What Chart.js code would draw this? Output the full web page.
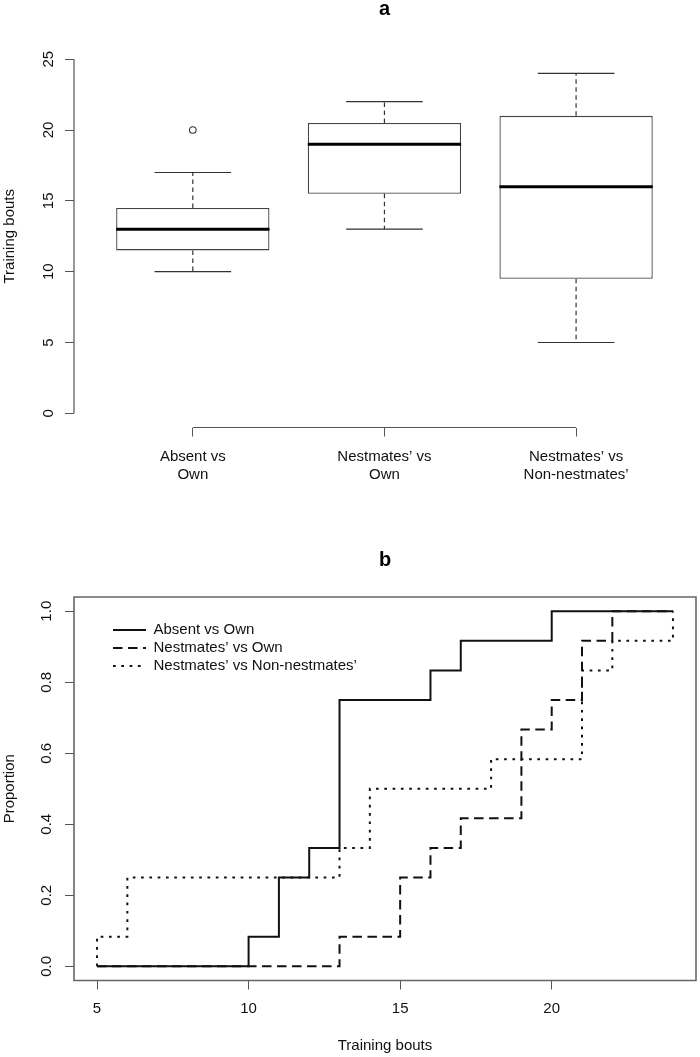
<!DOCTYPE html>
<html>
<head>
<meta charset="utf-8">
<script src="https://cdn.jsdelivr.net/npm/chart.js@4/dist/chart.umd.min.js"></script>
<style>
  html, body { margin: 0; padding: 0; background: #fff; }
  canvas { display: block; }
</style>
</head>
<body>
<canvas id="boxes" width="700" height="490"></canvas>
<canvas id="ecdf" width="700" height="567"></canvas>
<script>
// training bouts per colony (12 colonies per treatment)
const groupLabels = [["Absent vs", "Own"], ["Nestmates’ vs", "Own"], ["Nestmates’ vs", "Non-nestmates’"]];
const seriesNames = ["Absent vs Own", "Nestmates’ vs Own", "Nestmates’ vs Non-nestmates’"];
const absentOwn = [10, 11, 11, 12, 13, 13, 13, 13, 13, 16, 17, 20];
const nestmatesOwn = [13, 15, 15, 16, 17, 19, 19, 19, 20, 21, 21, 22];
const nestmatesNon = [5, 6, 6, 13, 14, 14, 18, 21, 21, 21, 22, 24];
const boutTicks = [0, 5, 10, 15, 20, 25];
const ecdfXTicks = [5, 10, 15, 20];
const ecdfYTicks = [0, 0.2, 0.4, 0.6, 0.8, 1];

const samples = [absentOwn, nestmatesOwn, nestmatesNon];
const dashes = [[], [9.5, 5.5], [2.7, 5.6]];

const FONT = "'Liberation Sans', Arial, Helvetica, sans-serif";
Chart.defaults.font.family = FONT;
Chart.defaults.font.size = 15;
Chart.defaults.color = '#222';
Chart.defaults.animation = false;

// R-like 4% axis extension
const rRange = (lo, hi) => [lo - 0.04 * (hi - lo), hi + 0.04 * (hi - lo)];

// Tukey five-number summary, same as R's fivenum / boxplot.stats
function boxStats(v) {
  const s = [...v].sort((a, b) => a - b), n = s.length;
  const n4 = Math.floor((n + 3) / 2) / 2;
  const d = [1, n4, (n + 1) / 2, n + 1 - n4, n];
  const f = d.map(k => 0.5 * (s[Math.floor(k) - 1] + s[Math.ceil(k) - 1]));
  const iqr = f[3] - f[1];
  const inside = s.filter(t => t >= f[1] - 1.5 * iqr && t <= f[3] + 1.5 * iqr);
  return {
    lo: inside[0], q1: f[1], med: f[2], q3: f[3], hi: inside[inside.length - 1],
    out: s.filter(t => !inside.includes(t))
  };
}

function ecdfPoints(v, lo, hi) {
  const s = [...v].sort((a, b) => a - b);
  const pts = [{x: lo, y: 0}];
  [...new Set(s)].forEach(x => pts.push({x, y: s.filter(t => t <= x).length / s.length}));
  if (pts[pts.length - 1].x < hi) pts.push({x: hi, y: 1});
  return pts;
}

// axis lines drawn like R: spanning first..last tick, or a full box
const rAxes = {
  id: 'rAxes',
  afterDraw(chart, args, opts) {
    const {ctx, chartArea: a, scales: {x, y}} = chart;
    ctx.save();
    ctx.strokeStyle = opts.color;
    ctx.lineWidth = opts.width;
    ctx.beginPath();
    if (opts.frame) {
      ctx.rect(a.left, a.top, a.right - a.left, a.bottom - a.top);
    } else {
      const yt = y.ticks, xt = x.ticks;
      ctx.moveTo(a.left, y.getPixelForValue(yt[0].value));
      ctx.lineTo(a.left, y.getPixelForValue(yt[yt.length - 1].value));
      ctx.moveTo(x.getPixelForValue(xt[0].value), a.bottom);
      ctx.lineTo(x.getPixelForValue(xt[xt.length - 1].value), a.bottom);
    }
    ctx.stroke();
    ctx.restore();
  }
};

// move the legend into the top-left of the plot, like legend("topleft")
const legendInset = {
  id: 'legendInset',
  afterLayout(chart, args, opts) {
    const lg = chart.legend;
    if (!lg) return;
    lg.left = chart.chartArea.left + opts.dx;
    lg.top = chart.chartArea.top + opts.dy;
  }
};

const tickGrid = {display: true, drawOnChartArea: false, drawTicks: true, tickLength: 9, color: '#555', lineWidth: 1, offset: false};

// ---------- a: boxplots ----------
const stats = samples.map(boxStats);
const [xa0, xa1] = rRange(0.5, samples.length + 0.5);
const [ya0, ya1] = rRange(boutTicks[0], boutTicks[boutTicks.length - 1]);
const halfBox = 0.4, halfCap = 0.2;

const medians = stats.flatMap((s, i) => [{x: i + 1 - halfBox, y: s.med}, {x: i + 1 + halfBox, y: s.med}, {x: i + 1, y: null}]);
const whiskers = stats.flatMap((s, i) => [
  {x: i + 1, y: s.q3}, {x: i + 1, y: s.hi}, {x: i + 1, y: null},
  {x: i + 1, y: s.q1}, {x: i + 1, y: s.lo}, {x: i + 1, y: null}]);
const caps = stats.flatMap((s, i) => [
  {x: i + 1 - halfCap, y: s.hi}, {x: i + 1 + halfCap, y: s.hi}, {x: i + 1, y: null},
  {x: i + 1 - halfCap, y: s.lo}, {x: i + 1 + halfCap, y: s.lo}, {x: i + 1, y: null}]);
const outliers = stats.flatMap((s, i) => s.out.map(v => ({x: i + 1, y: v})));
const boxes = stats.map((s, i) => ({x: i + 1, y: [s.q1, s.q3]}));

new Chart(document.getElementById('boxes'), {
  type: 'line',
  data: {
    datasets: [
      {data: medians, borderColor: '#000', borderWidth: 3, borderCapStyle: 'butt', pointRadius: 0},
      {data: caps, borderColor: '#333', borderWidth: 1.2, pointRadius: 0},
      {data: whiskers, borderColor: '#333', borderWidth: 1.2, borderDash: [4.5, 3.5], pointRadius: 0},
      {data: outliers, showLine: false, pointRadius: 3.3, pointStyle: 'circle',
       pointBackgroundColor: '#fff', pointBorderColor: '#333', pointBorderWidth: 1.1},
      {type: 'bar', data: boxes, backgroundColor: '#fff', borderColor: '#444', borderWidth: 1.3,
       borderSkipped: false, grouped: false, categoryPercentage: 1, barPercentage: 0.8}
    ]
  },
  options: {
    responsive: false,
    layout: {padding: {left: 0, right: 4, top: 0, bottom: 0}},
    plugins: {
      legend: {display: false},
      tooltip: {enabled: false},
      title: {display: true, text: 'a', color: '#000', fullSize: false,
              font: {size: 20, weight: 'bold', lineHeight: 0.75}, padding: {top: 1.5, bottom: 28.5}},
      rAxes: {color: '#555', width: 1.2, frame: false}
    },
    scales: {
      x: {
        type: 'linear', min: xa0, max: xa1, offset: false, bounds: 'data',
        afterBuildTicks: s => { s.ticks = samples.map((_, i) => ({value: i + 1})); },
        afterFit: s => { s.height = 62.5; },
        grid: tickGrid, border: {display: false},
        ticks: {autoSkip: false, maxRotation: 0, padding: 11, color: '#111',
                callback: v => groupLabels[v - 1]}
      },
      y: {
        type: 'linear', min: ya0, max: ya1, bounds: 'data',
        afterBuildTicks: s => { s.ticks = boutTicks.map(v => ({value: v})); },
        afterFit: s => { s.width = 74; },
        grid: tickGrid, border: {display: false},
        ticks: {minRotation: 90, maxRotation: 90, crossAlign: 'center', padding: 8, color: '#111'},
        title: {display: true, text: 'Training bouts', color: '#111', padding: {top: 1, bottom: 0}}
      }
    }
  },
  plugins: [rAxes]
});

// ---------- b: cumulative proportions ----------
const all = samples.flat();
const xMin = Math.min(...all), xMax = Math.max(...all);
const [xb0, xb1] = rRange(xMin, xMax);
const [yb0, yb1] = rRange(ecdfYTicks[0], ecdfYTicks[ecdfYTicks.length - 1]);

new Chart(document.getElementById('ecdf'), {
  type: 'line',
  data: {
    datasets: samples.map((v, i) => ({
      label: seriesNames[i],
      data: ecdfPoints(v, xMin, xMax),
      stepped: 'before',
      borderColor: '#111',
      borderWidth: 2,
      borderDash: dashes[i],
      borderCapStyle: 'butt',
      pointRadius: 0
    }))
  },
  options: {
    responsive: false,
    layout: {padding: {left: 0, right: 4, top: 0, bottom: 0}},
    plugins: {
      legend: {
        position: 'chartArea', align: 'start',
        labels: {
          usePointStyle: true, pointStyle: 'line', pointStyleWidth: 33, boxHeight: 15,
          padding: 3, color: '#111', font: {size: 15},
          // legend samples keep each dataset's own line pattern
          generateLabels: chart => Chart.defaults.plugins.legend.labels.generateLabels(chart).map(item => {
            const ds = chart.data.datasets[item.datasetIndex];
            return {...item, lineDash: ds.borderDash, lineWidth: ds.borderWidth,
                    strokeStyle: ds.borderColor, lineCap: 'butt'};
          })
        }
      },
      legendInset: {dx: 36, dy: 22.5},
      tooltip: {enabled: false},
      title: {display: true, text: 'b', color: '#000', fullSize: false,
              font: {size: 20, weight: 'bold', lineHeight: 0.75}, padding: {top: 62.5, bottom: 29.5}},
      rAxes: {color: '#666', width: 1.6, frame: true}
    },
    scales: {
      x: {
        type: 'linear', min: xb0, max: xb1, bounds: 'data',
        afterBuildTicks: s => { s.ticks = ecdfXTicks.map(v => ({value: v})); },
        afterFit: s => { s.height = 76.5; },
        grid: tickGrid, border: {display: false},
        ticks: {autoSkip: false, maxRotation: 0, padding: 10.5, color: '#111'},
        title: {display: true, text: 'Training bouts', color: '#111', padding: {top: 0, bottom: 2}}
      },
      y: {
        type: 'linear', min: yb0, max: yb1, bounds: 'data',
        afterBuildTicks: s => { s.ticks = ecdfYTicks.map(v => ({value: v})); },
        afterFit: s => { s.width = 74; },
        grid: tickGrid, border: {display: false},
        ticks: {minRotation: 90, maxRotation: 90, crossAlign: 'center', padding: 7.6, color: '#111',
                callback: v => v.toFixed(1)},
        title: {display: true, text: 'Proportion', color: '#111', padding: {top: 1, bottom: 0}}
      }
    }
  },
  plugins: [rAxes, legendInset]
});
</script>
</body>
</html>
